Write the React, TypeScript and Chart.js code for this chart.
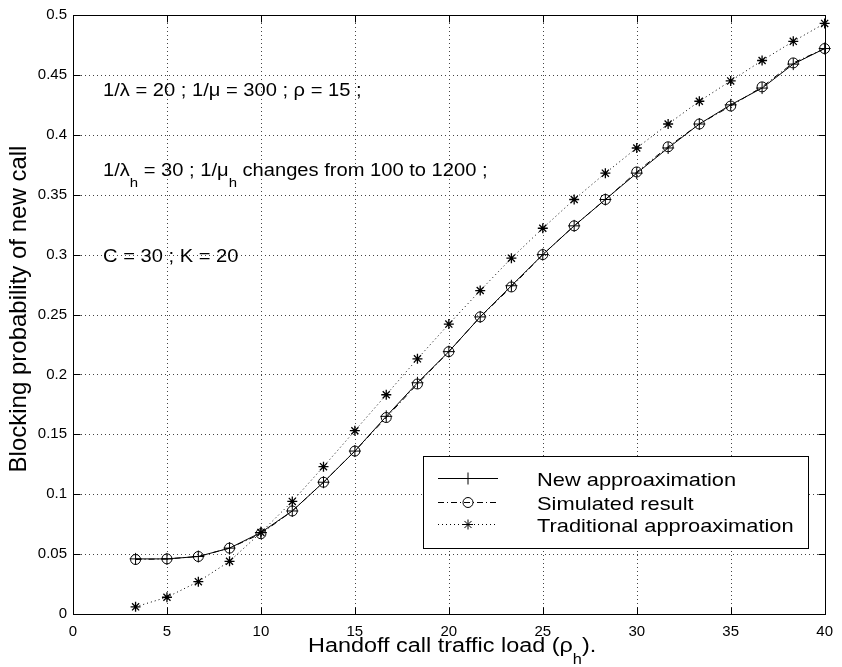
import React, { useEffect, useRef } from "react";
import { Chart, registerables } from "chart.js";

Chart.register(...registerables);

// ---- data ----
const loadValues = [3.33, 5, 6.67, 8.33, 10, 11.67, 13.33, 15, 16.67, 18.33, 20, 21.67, 23.33, 25, 26.67, 28.33, 30, 31.67, 33.33, 35, 36.67, 38.33, 40];
const newApprox = [0.046, 0.046, 0.048, 0.055, 0.068, 0.086, 0.110, 0.136, 0.165, 0.193, 0.219, 0.248, 0.274, 0.300, 0.324, 0.346, 0.368, 0.389, 0.409, 0.425, 0.439, 0.459, 0.472];
const simulated = [0.0455, 0.046, 0.048, 0.055, 0.067, 0.086, 0.110, 0.136, 0.164, 0.192, 0.219, 0.248, 0.273, 0.300, 0.324, 0.346, 0.369, 0.390, 0.409, 0.424, 0.440, 0.460, 0.472];
const traditional = [0.006, 0.014, 0.027, 0.044, 0.068, 0.094, 0.123, 0.153, 0.183, 0.213, 0.242, 0.270, 0.297, 0.322, 0.346, 0.368, 0.389, 0.409, 0.428, 0.445, 0.462, 0.478, 0.493];
const seriesLabels = ["New approaximation", "Simulated result", "Traditional approaximation"];
const xTitle = [{ t: "Handoff call traffic load (ρ" }, { t: "h", sub: true }, { t: ")." }];
const yTitle = "Blocking probability of new call";
const noteLines = [
  [{ t: "1/λ = 20 ; 1/μ = 300 ; ρ = 15 ;" }],
  [{ t: "1/λ" }, { t: "h", sub: true }, { t: " = 30 ; 1/μ" }, { t: "h", sub: true }, { t: " changes from 100 to 1200 ;" }],
  [{ t: "C = 30 ; K = 20" }],
];

const FONT = '"Liberation Sans", Arial, Helvetica, sans-serif';
const SX = 1.15;

type Part = { t: string; sub?: boolean };

function drawRich(ctx: CanvasRenderingContext2D, parts: Part[], x: number, y: number, size: number, subSize: number, subDy: number, sx: number) {
  ctx.save();
  ctx.translate(x, y);
  ctx.scale(sx, 1);
  ctx.textAlign = "left";
  ctx.textBaseline = "alphabetic";
  ctx.fillStyle = "#000";
  let cx = 0;
  for (const p of parts) {
    const s = p.sub ? subSize : size;
    ctx.font = `${s}px ${FONT}`;
    ctx.fillText(p.t, cx, p.sub ? subDy : 0);
    cx += ctx.measureText(p.t).width;
  }
  ctx.restore();
}

const decorPlugin = {
  id: "decor",
  beforeDatasetsDraw(chart: any) {
    const { ctx, chartArea: a, scales } = chart;
    const xs = scales.x, ys = scales.y;
    ctx.save();
    ctx.strokeStyle = "#444";
    ctx.lineWidth = 1;
    ctx.setLineDash([1, 3]);
    for (const t of xs.ticks) {
      if (t.value <= xs.min || t.value >= xs.max) continue;
      const px = Math.round(xs.getPixelForValue(t.value)) + 0.5;
      ctx.beginPath(); ctx.moveTo(px, a.top); ctx.lineTo(px, a.bottom); ctx.stroke();
    }
    for (const t of ys.ticks) {
      if (t.value <= ys.min || t.value >= ys.max) continue;
      const py = Math.round(ys.getPixelForValue(t.value)) + 0.5;
      ctx.beginPath(); ctx.moveTo(a.left, py); ctx.lineTo(a.right, py); ctx.stroke();
    }
    ctx.restore();

    // annotations
    drawRich(ctx, noteLines[0] as Part[], 103, 96, 17.5, 13, 11, SX);
    drawRich(ctx, noteLines[1] as Part[], 103, 176, 17.5, 13, 11, SX);
    drawRich(ctx, noteLines[2] as Part[], 103, 262, 17.5, 13, 11, SX);
  },
  afterDraw(chart: any) {
    const { ctx, chartArea: a, scales } = chart;
    const xs = scales.x, ys = scales.y;
    ctx.save();
    ctx.strokeStyle = "#000";
    ctx.lineWidth = 1;
    ctx.setLineDash([]);
    const L = Math.round(a.left) + 0.5, R = Math.round(a.right) + 0.5;
    const T = Math.round(a.top) + 0.5, B = Math.round(a.bottom) + 0.5;
    ctx.strokeRect(L, T, R - L, B - T);
    const tl = 7;
    for (const t of xs.ticks) {
      const px = Math.round(xs.getPixelForValue(t.value)) + 0.5;
      ctx.beginPath();
      ctx.moveTo(px, B); ctx.lineTo(px, B - tl);
      ctx.moveTo(px, T); ctx.lineTo(px, T + tl);
      ctx.stroke();
    }
    for (const t of ys.ticks) {
      const py = Math.round(ys.getPixelForValue(t.value)) + 0.5;
      ctx.beginPath();
      ctx.moveTo(L, py); ctx.lineTo(L + tl, py);
      ctx.moveTo(R, py); ctx.lineTo(R - tl, py);
      ctx.stroke();
    }

    // legend box
    const bx = 423.5, by = 456.5, bw = 385, bh = 92;
    ctx.fillStyle = "#fff";
    ctx.fillRect(bx, by, bw, bh);
    ctx.strokeRect(bx, by, bw, bh);
    const rowY = [478, 502, 524];
    const dashes = [[], [6, 3, 1, 3], [1, 3]];
    const styles = ["cross", "circle", "star"];
    chart.data.datasets.forEach((ds: any, i: number) => {
      const y = rowY[i] + 0.5;
      ctx.save();
      ctx.strokeStyle = "#000";
      ctx.lineWidth = 1;
      ctx.setLineDash(dashes[i]);
      ctx.beginPath(); ctx.moveTo(438, y); ctx.lineTo(498, y); ctx.stroke();
      ctx.setLineDash([]);
      ctx.restore();
      ctx.save();
      ctx.strokeStyle = "#000";
      ctx.fillStyle = "rgba(0,0,0,0)";
      ctx.lineWidth = 1;
      (Chart as any).helpers
        ? null
        : null;
      drawMarker(ctx, styles[i], 468, y, i === 0 ? 6 : 5);
      ctx.restore();
      drawRich(ctx, [{ t: ds.label }], 537, rowY[i] + 8, 19, 13, 0, SX);
    });

    // axis titles
    drawRich(ctx, xTitle as Part[], 308, 652, 20, 14, 12, 1.17);
    ctx.save();
    ctx.translate(26, 309);
    ctx.rotate(-Math.PI / 2);
    ctx.font = `24px ${FONT}`;
    ctx.textAlign = "center";
    ctx.textBaseline = "alphabetic";
    ctx.fillStyle = "#000";
    ctx.fillText(yTitle, 0, 0);
    ctx.restore();
    ctx.restore();
  },
};

function drawMarker(ctx: CanvasRenderingContext2D, style: string, x: number, y: number, r: number) {
  ctx.beginPath();
  if (style === "cross") {
    ctx.moveTo(x - r, y); ctx.lineTo(x + r, y);
    ctx.moveTo(x, y - r); ctx.lineTo(x, y + r);
  } else if (style === "circle") {
    ctx.arc(x, y, r, 0, Math.PI * 2);
  } else {
    const d = r * 0.707;
    ctx.moveTo(x - r, y); ctx.lineTo(x + r, y);
    ctx.moveTo(x, y - r); ctx.lineTo(x, y + r);
    ctx.moveTo(x - d, y - d); ctx.lineTo(x + d, y + d);
    ctx.moveTo(x - d, y + d); ctx.lineTo(x + d, y - d);
  }
  ctx.stroke();
}

export default function App() {
  const ref = useRef<HTMLCanvasElement | null>(null);
  useEffect(() => {
    if (!ref.current) return;
    const mk = (vals: number[]) => vals.map((v, i) => ({ x: loadValues[i], y: v }));
    const chart = new Chart(ref.current, {
      type: "line",
      data: {
        datasets: [
          {
            label: seriesLabels[0],
            data: mk(newApprox),
            borderColor: "#000",
            borderWidth: 1,
            pointStyle: "cross",
            pointRadius: 6,
            pointBorderColor: "#000",
            pointBorderWidth: 1,
            pointBackgroundColor: "rgba(0,0,0,0)",
            fill: false,
            tension: 0,
            clip: false as any,
          },
          {
            label: seriesLabels[1],
            data: mk(simulated),
            borderColor: "#000",
            borderWidth: 1,
            borderDash: [6, 3, 1, 3],
            pointStyle: "circle",
            pointRadius: 5,
            pointBorderColor: "#000",
            pointBorderWidth: 1,
            pointBackgroundColor: "rgba(0,0,0,0)",
            fill: false,
            tension: 0,
            clip: false as any,
          },
          {
            label: seriesLabels[2],
            data: mk(traditional),
            borderColor: "#000",
            borderWidth: 1,
            borderDash: [1, 3],
            pointStyle: "star",
            pointRadius: 5,
            pointBorderColor: "#000",
            pointBorderWidth: 1.3,
            pointBackgroundColor: "rgba(0,0,0,0)",
            fill: false,
            tension: 0,
            clip: false as any,
          },
        ],
      },
      options: {
        animation: false,
        responsive: false,
        events: [],
        layout: { padding: { top: 13, right: 8, left: 0, bottom: 0 } },
        plugins: { legend: { display: false }, tooltip: { enabled: false }, title: { display: false } },
        scales: {
          x: {
            type: "linear",
            min: 0,
            max: 40,
            grid: { display: false, drawTicks: false },
            border: { display: false },
            ticks: {
              stepSize: 5,
              padding: 9,
              color: "#000",
              font: { family: FONT, size: 15 },
              maxRotation: 0,
              callback: (v: any) => String(v),
            },
            afterFit: (s: any) => { s.height = 53; },
          },
          y: {
            type: "linear",
            min: 0,
            max: 0.5,
            grid: { display: false, drawTicks: false },
            border: { display: false },
            ticks: {
              stepSize: 0.05,
              padding: 6,
              color: "#000",
              font: { family: FONT, size: 15 },
              callback: (v: any) => String(+Number(v).toFixed(2)),
            },
            afterFit: (s: any) => { s.width = 73; },
          },
        },
      } as any,
      plugins: [decorPlugin],
    });
    return () => chart.destroy();
  }, []);
  return (
    <div style={{ position: "absolute", left: 0, top: 0, width: 842, height: 667, background: "#fff" }}>
      <canvas ref={ref} width={842} height={667} />
    </div>
  );
}
